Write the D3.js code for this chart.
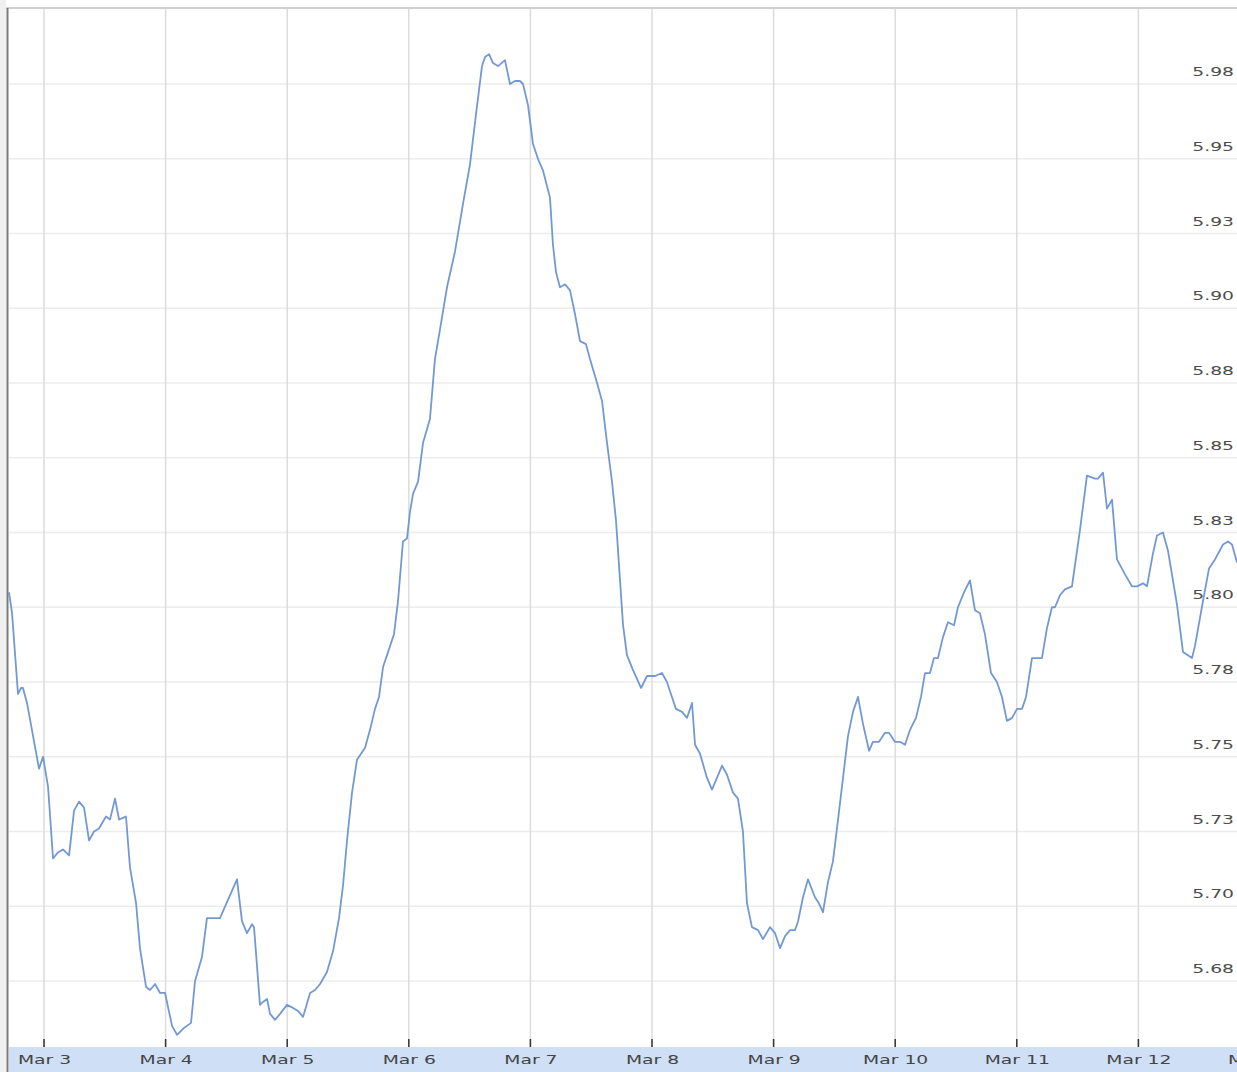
<!DOCTYPE html>
<html>
<head>
<meta charset="utf-8">
<script src="https://cdn.jsdelivr.net/npm/d3@7"></script>
<style>
  html, body { margin: 0; padding: 0; background: #fff; overflow: hidden; }
  text { font-family: "DejaVu Sans", Verdana, sans-serif; }
</style>
</head>
<body>
<div id="chart"></div>
<script>
// days after Mar 3 00:00
const days = [
  -0.288, -0.263, -0.214, -0.189, -0.173, -0.140, -0.041, -0.008, 0.033, 0.074,
  0.115, 0.156, 0.206, 0.247, 0.288, 0.329, 0.370, 0.411, 0.452, 0.510,
  0.543, 0.584, 0.617, 0.674, 0.707, 0.757, 0.789, 0.839, 0.872, 0.913,
  0.954, 0.995, 1.053, 1.094, 1.143, 1.209, 1.242, 1.299, 1.340, 1.447,
  1.587, 1.628, 1.669, 1.711, 1.727, 1.776, 1.801, 1.834, 1.859, 1.900,
  1.941, 1.998, 2.048, 2.089, 2.130, 2.188, 2.229, 2.270, 2.327, 2.377,
  2.426, 2.459, 2.492, 2.533, 2.574, 2.640, 2.681, 2.722, 2.755, 2.788,
  2.821, 2.878, 2.911, 2.952, 2.985, 3.010, 3.035, 3.076, 3.117, 3.174,
  3.215, 3.257, 3.314, 3.380, 3.446, 3.503, 3.553, 3.602, 3.627, 3.660,
  3.692, 3.734, 3.791, 3.832, 3.873, 3.914, 3.939, 3.980, 4.021, 4.062,
  4.104, 4.161, 4.186, 4.211, 4.243, 4.285, 4.326, 4.367, 4.408, 4.457,
  4.490, 4.548, 4.589, 4.630, 4.671, 4.704, 4.737, 4.762, 4.794, 4.844,
  4.910, 4.959, 5.025, 5.082, 5.123, 5.164, 5.197, 5.247, 5.288, 5.329,
  5.354, 5.395, 5.452, 5.493, 5.535, 5.576, 5.617, 5.666, 5.707, 5.748,
  5.781, 5.822, 5.872, 5.913, 5.970, 6.012, 6.053, 6.094, 6.135, 6.176,
  6.201, 6.242, 6.283, 6.340, 6.373, 6.406, 6.447, 6.488, 6.530, 6.571,
  6.612, 6.653, 6.694, 6.735, 6.785, 6.817, 6.867, 6.916, 6.949, 6.998,
  7.039, 7.081, 7.122, 7.171, 7.212, 7.245, 7.286, 7.319, 7.352, 7.393,
  7.434, 7.484, 7.516, 7.566, 7.615, 7.656, 7.697, 7.738, 7.788, 7.837,
  7.878, 7.919, 7.961, 8.002, 8.043, 8.076, 8.125, 8.207, 8.248, 8.289,
  8.314, 8.355, 8.396, 8.454, 8.520, 8.577, 8.643, 8.668, 8.709, 8.742,
  8.783, 8.824, 8.890, 8.947, 8.988, 9.038, 9.071, 9.120, 9.153, 9.202,
  9.243, 9.317, 9.367, 9.441, 9.465, 9.531, 9.581, 9.630, 9.696, 9.737,
  9.770, 9.811
];

const rates = [
  5.805, 5.798, 5.771, 5.773, 5.773, 5.768, 5.746, 5.750, 5.740, 5.716,
  5.718, 5.719, 5.717, 5.732, 5.735, 5.733, 5.722, 5.725, 5.726, 5.730,
  5.729, 5.736, 5.729, 5.730, 5.713, 5.701, 5.686, 5.673, 5.672, 5.674,
  5.671, 5.671, 5.660, 5.657, 5.659, 5.661, 5.675, 5.683, 5.696, 5.696,
  5.709, 5.695, 5.691, 5.694, 5.693, 5.667, 5.668, 5.669, 5.664, 5.662,
  5.664, 5.667, 5.666, 5.665, 5.663, 5.671, 5.672, 5.674, 5.678, 5.685,
  5.696, 5.707, 5.722, 5.738, 5.749, 5.753, 5.759, 5.766, 5.770, 5.780,
  5.784, 5.791, 5.802, 5.822, 5.823, 5.832, 5.838, 5.842, 5.855, 5.863,
  5.883, 5.893, 5.907, 5.919, 5.935, 5.948, 5.965, 5.981, 5.984, 5.985,
  5.982, 5.981, 5.983, 5.975, 5.976, 5.976, 5.975, 5.968, 5.955, 5.950,
  5.946, 5.937, 5.921, 5.912, 5.907, 5.908, 5.906, 5.898, 5.889, 5.888,
  5.883, 5.875, 5.869, 5.855, 5.842, 5.829, 5.809, 5.794, 5.784, 5.779,
  5.773, 5.777, 5.777, 5.778, 5.775, 5.770, 5.766, 5.765, 5.763, 5.768,
  5.754, 5.751, 5.743, 5.739, 5.743, 5.747, 5.744, 5.738, 5.736, 5.725,
  5.701, 5.693, 5.692, 5.689, 5.693, 5.691, 5.686, 5.690, 5.692, 5.692,
  5.695, 5.703, 5.709, 5.703, 5.701, 5.698, 5.708, 5.715, 5.729, 5.743,
  5.757, 5.765, 5.770, 5.761, 5.752, 5.755, 5.755, 5.758, 5.758, 5.755,
  5.755, 5.754, 5.759, 5.763, 5.770, 5.778, 5.778, 5.783, 5.783, 5.790,
  5.795, 5.794, 5.800, 5.805, 5.809, 5.799, 5.798, 5.791, 5.778, 5.775,
  5.770, 5.762, 5.763, 5.766, 5.766, 5.770, 5.783, 5.783, 5.793, 5.800,
  5.800, 5.804, 5.806, 5.807, 5.826, 5.844, 5.843, 5.843, 5.845, 5.833,
  5.836, 5.816, 5.811, 5.807, 5.807, 5.808, 5.807, 5.818, 5.824, 5.825,
  5.819, 5.801, 5.785, 5.783, 5.787, 5.802, 5.813, 5.816, 5.821, 5.822,
  5.821, 5.815
];

const yTicks = [5.675, 5.7, 5.725, 5.75, 5.775, 5.8, 5.825, 5.85, 5.875, 5.9, 5.925, 5.95, 5.975];
const yTickLabels = ["5.68", "5.70", "5.73", "5.75", "5.78", "5.80", "5.83", "5.85", "5.88", "5.90", "5.93", "5.95", "5.98"];
const dayTicks = [0, 1, 2, 3, 4, 5, 6, 7, 8, 9, 10];

const W = 1237, H = 1072;
const plot = { left: 9, top: 8, right: 1237, bottom: 1047 };
const stretch = 1.5; // text in the picture is stretched sideways

const start = new Date(2009, 2, 3);
const toDate = (d) => new Date(start.getTime() + d * 864e5);
const data = days.map((d, i) => ({ date: toDate(d), value: rates[i] }));

const x = d3.scaleTime()
  .domain([toDate(days[0]), toDate(days[days.length - 1])])
  .range([plot.left, plot.right]);

const y = d3.scaleLinear()
  .domain([5.675, 5.975])
  .range([981, 84]);

const svg = d3.select("#chart").append("svg")
  .attr("width", W)
  .attr("height", H);

svg.append("rect").attr("width", W).attr("height", H).attr("fill", "#fff");

// horizontal grid
svg.append("g")
  .selectAll("line")
  .data(yTicks)
  .join("line")
  .attr("x1", plot.left).attr("x2", plot.right)
  .attr("y1", (d) => y(d)).attr("y2", (d) => y(d))
  .attr("stroke", "#ececec")
  .attr("stroke-width", 1.5);

// vertical grid
svg.append("g")
  .selectAll("line")
  .data(dayTicks)
  .join("line")
  .attr("x1", (d) => x(toDate(d))).attr("x2", (d) => x(toDate(d)))
  .attr("y1", plot.top).attr("y2", plot.bottom)
  .attr("stroke", "#dcdcdc")
  .attr("stroke-width", 1.5);

// y labels, right side, sitting above their grid line
svg.append("g")
  .selectAll("text")
  .data(yTicks)
  .join("text")
  .attr("transform", (d) => `translate(1234,${y(d) - 8}) scale(${stretch},1)`)
  .attr("text-anchor", "end")
  .attr("font-size", 12.5)
  .attr("fill", "#4d4d4d")
  .text((d, i) => yTickLabels[i]);

// the rate line
svg.append("path")
  .datum(data)
  .attr("fill", "none")
  .attr("stroke", "#7399d4")
  .attr("stroke-width", 1.8)
  .attr("stroke-linejoin", "round")
  .attr("d", d3.line().x((d) => x(d.date)).y((d) => y(d.value)));

// frame: top and left
svg.append("line")
  .attr("x1", 0).attr("x2", W).attr("y1", plot.top).attr("y2", plot.top)
  .attr("stroke", "#cfcfcf").attr("stroke-width", 2);
svg.append("rect")
  .attr("x", 0).attr("y", 0).attr("width", 6).attr("height", H)
  .attr("fill", "#f0f0f0");
svg.append("line")
  .attr("x1", 7.5).attr("x2", 7.5).attr("y1", plot.top).attr("y2", H)
  .attr("stroke", "#7a7a7a").attr("stroke-width", 2);

// bottom axis band
svg.append("rect")
  .attr("x", 9).attr("y", plot.bottom)
  .attr("width", W - 9).attr("height", H - plot.bottom)
  .attr("fill", "#cfe0f6");

const xAxis = d3.axisBottom(x)
  .tickValues(dayTicks.map(toDate))
  .tickFormat(d3.timeFormat("%b %-d"))
  .tickSize(0);

const gx = svg.append("g")
  .attr("transform", `translate(0,${plot.bottom})`)
  .call(xAxis);
gx.select(".domain").remove();
gx.selectAll(".tick text")
  .attr("y", 0).attr("dy", 0)
  .attr("transform", `translate(0,17) scale(${stretch},1)`)
  .attr("font-size", 12.5)
  .attr("font-family", "DejaVu Sans, Verdana, sans-serif")
  .attr("fill", "#444");

// small tick marks above the band
svg.append("g")
  .selectAll("line")
  .data(dayTicks)
  .join("line")
  .attr("x1", (d) => x(toDate(d))).attr("x2", (d) => x(toDate(d)))
  .attr("y1", plot.bottom - 8).attr("y2", plot.bottom)
  .attr("stroke", "#333")
  .attr("stroke-width", 1.5);
</script>
</body>
</html>
